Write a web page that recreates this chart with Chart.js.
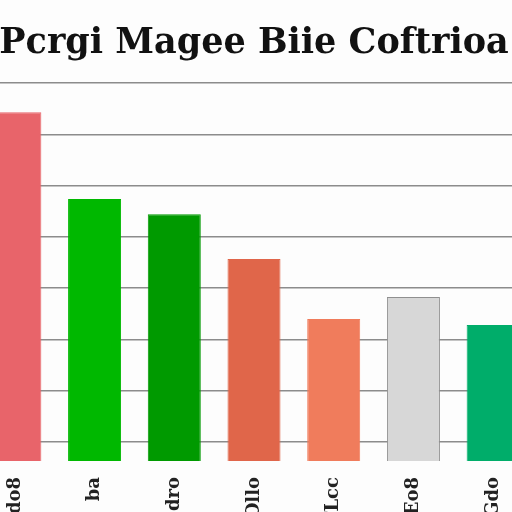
<!DOCTYPE html>
<html>
<head>
<meta charset="utf-8">
<script src="https://cdn.jsdelivr.net/npm/chart.js@4"></script>
<style>
  html, body { margin: 0; padding: 0; background: #fdfdfd; overflow: hidden; width: 512px; height: 512px; }
  #wrap { position: absolute; left: -25px; top: 0; }
</style>
</head>
<body>
<div id="wrap"><canvas id="myChart" width="558" height="521"></canvas></div>
<script>
const ctx = document.getElementById('myChart').getContext('2d');

// categorias e valores
const categorias = ['Sdo8', 'ba', 'dro', 'Ollo', 'TLcc', 'Eo8', 'Gdo'];
const valores = [74.3, 57.4, 54.4, 45.7, 34.0, 38.3, 32.8];
const cores = ['#e8646a', '#00b800', '#009a00', '#e0664a', '#f07c5c', '#d7d7d7', '#00ad6a'];
const bordas = ['#e8646a', '#00b800', '#009a00', '#e0664a', '#f07c5c', '#8f8f8f', '#00ad6a'];
const ticksY = [10, 20, 30, 40, 50, 60, 70, 80];

const data = {
  labels: categorias,
  datasets: [{
    label: 'Valores',
    data: valores,
    backgroundColor: cores,
    borderColor: bordas,
    borderWidth: 1,
    barPercentage: 0.665,
    categoryPercentage: 1
  }]
};

const config = {
  type: 'bar',
  data: data,
  options: {
    responsive: false,
    animation: false,
    devicePixelRatio: 1,
    layout: { padding: 0 },
    plugins: {
      title: {
        display: true,
        text: 'Pcrgi Magee Biie Coftrioa',
        color: '#111111',
        font: { family: 'DejaVu Serif', size: 35, weight: 'bold' },
        padding: { top: 23, bottom: 18 }
      },
      legend: { display: false },
      tooltip: { enabled: false }
    },
    scales: {
      y: {
        min: 6.3,
        max: 80,
        afterBuildTicks: (scale) => { scale.ticks = ticksY.map(v => ({ value: v })); },
        afterFit: (scale) => { scale.width = 0; },
        ticks: { display: false },
        border: { display: false },
        grid: { color: '#8c8c8c', lineWidth: 1.5, drawTicks: false }
      },
      x: {
        afterFit: (scale) => { scale.height = 60; },
        ticks: {
          color: '#222222',
          minRotation: 90,
          maxRotation: 90,
          padding: 8,
          font: { family: 'DejaVu Serif', size: 18, weight: 'bold' }
        },
        border: { display: false },
        grid: { display: false }
      }
    }
  }
};

new Chart(ctx, config);
</script>
</body>
</html>
